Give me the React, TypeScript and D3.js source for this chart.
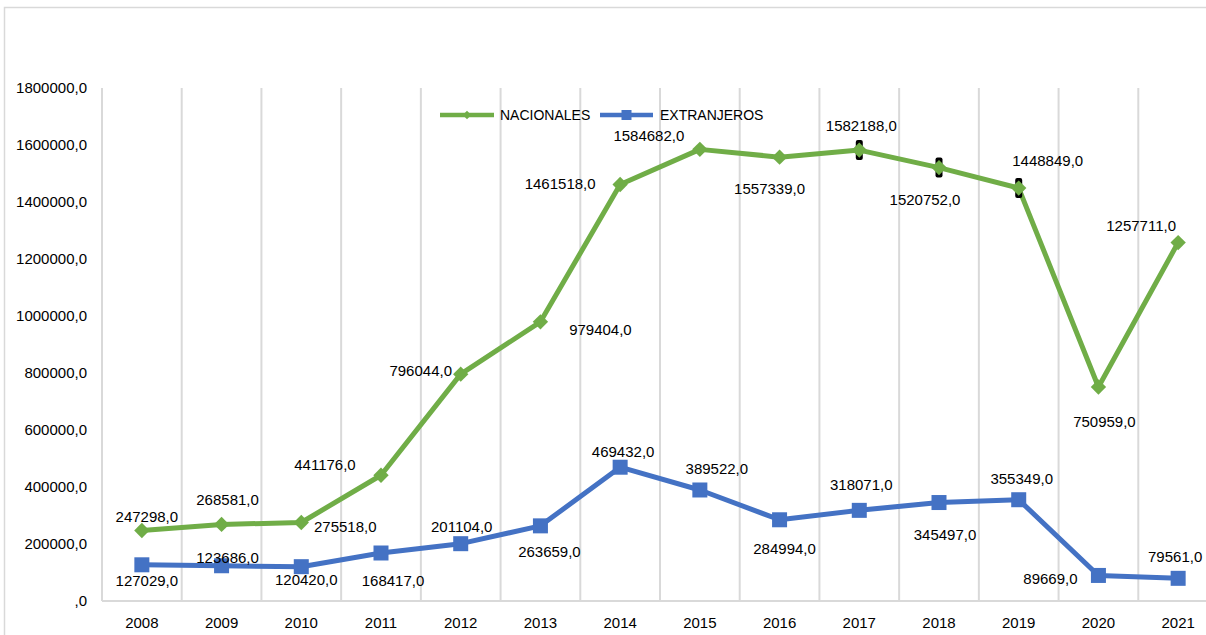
import React, { useRef, useEffect } from 'react';
import * as d3 from 'd3';

const years = ['2008', '2009', '2010', '2011', '2012', '2013', '2014', '2015', '2016', '2017', '2018', '2019', '2020', '2021'];
const nacionales = [247298, 268581, 275518, 441176, 796044, 979404, 1461518, 1584682, 1557339, 1582188, 1520752, 1448849, 750959, 1257711];
const extranjeros = [127029, 123686, 120420, 168417, 201104, 263659, 469432, 389522, 284994, 318071, 345497, 355349, 89669, 79561];
const yTicks = [0, 200000, 400000, 600000, 800000, 1000000, 1200000, 1400000, 1600000, 1800000];

// label offsets from the point (dx, dy), as placed in the original
const nacLabelOffset: [number, number][] = [
  [5, -14], [6, -25], [44, 4], [-56, -11], [-40, -3], [60, 8], [-60, -1],
  [-51, -14], [-10, 32], [2, -24], [-14, 32], [29, -27], [6, 35], [-37, -17],
];
const extLabelOffset: [number, number][] = [
  [5, 16], [6, -8], [5, 13], [12, 28], [1, -17], [9, 26], [3, -15],
  [17, -21], [5, 29], [2, -26], [6, 32], [3, -21], [-48, 3], [-3, -22],
];
// points that carry the small black marks
const markedYears = ['2017', '2018', '2019'];

const GREEN = '#70ad47';
const BLUE = '#4472c4';
const GRID = '#d9d9d9';
const FONT = '"Liberation Sans", Arial, sans-serif';

const App: React.FC = () => {
  const ref = useRef<SVGSVGElement>(null);

  useEffect(() => {
    const width = 1206;
    const height = 635;
    const svg = d3.select(ref.current);
    svg.selectAll('*').remove();
    svg.attr('width', width).attr('height', height);

    const margin = { top: 88, bottom: 601, left: 102, right: 1218 };

    const x = d3.scaleBand().domain(years).range([margin.left, margin.right]);
    const y = d3.scaleLinear().domain([0, 1800000]).range([margin.bottom, margin.top]);
    const cx = (d: string) => x(d)! + x.bandwidth() / 2;

    svg.append('rect').attr('width', width).attr('height', height).attr('fill', '#fff');

    // chart frame
    svg.append('rect')
      .attr('x', 4.5).attr('y', 7.5)
      .attr('width', width + 20).attr('height', height + 20)
      .attr('fill', 'none').attr('stroke', GRID).attr('stroke-width', 1.5);

    // vertical gridlines at category boundaries
    const bounds = years.map(d => x(d)!).concat([margin.right]);
    svg.append('g')
      .selectAll('line')
      .data(bounds)
      .join('line')
      .attr('x1', d => d).attr('x2', d => d)
      .attr('y1', margin.top).attr('y2', margin.bottom)
      .attr('stroke', GRID).attr('stroke-width', 2);

    // horizontal axis line
    svg.append('line')
      .attr('x1', margin.left).attr('x2', margin.right)
      .attr('y1', y(0)).attr('y2', y(0))
      .attr('stroke', GRID).attr('stroke-width', 2);

    // y axis labels
    svg.append('g')
      .selectAll('text')
      .data(yTicks)
      .join('text')
      .attr('x', 87)
      .attr('y', d => y(d))
      .attr('dy', '0.35em')
      .attr('text-anchor', 'end')
      .attr('font-family', FONT)
      .attr('font-size', 15)
      .attr('fill', '#000')
      .text(d => `${d === 0 ? '' : d},0`);

    // x axis labels
    svg.append('g')
      .selectAll('text')
      .data(years)
      .join('text')
      .attr('x', d => cx(d))
      .attr('y', 623)
      .attr('dy', '0.35em')
      .attr('text-anchor', 'middle')
      .attr('font-family', FONT)
      .attr('font-size', 15)
      .attr('fill', '#000')
      .text(d => d);

    const line = d3.line<number>()
      .x((_, i) => cx(years[i]))
      .y(d => y(d));

    // NACIONALES
    svg.append('path')
      .datum(nacionales)
      .attr('fill', 'none')
      .attr('stroke', GREEN)
      .attr('stroke-width', 5)
      .attr('stroke-linejoin', 'round')
      .attr('d', line);

    svg.append('g')
      .selectAll('rect')
      .data(nacionales.map((v, i) => ({ v, yr: years[i] })).filter(d => markedYears.includes(d.yr)))
      .join('rect')
      .attr('x', d => cx(d.yr) - 3.5)
      .attr('y', d => y(d.v) - 10)
      .attr('width', 7)
      .attr('height', 20)
      .attr('rx', 2)
      .attr('fill', '#000');

    const diamond = d3.symbol().type(d3.symbolDiamond2).size(150);
    svg.append('g')
      .selectAll('path')
      .data(nacionales)
      .join('path')
      .attr('transform', (d, i) => `translate(${cx(years[i])},${y(d)})`)
      .attr('d', diamond)
      .attr('fill', GREEN);

    // EXTRANJEROS
    svg.append('path')
      .datum(extranjeros)
      .attr('fill', 'none')
      .attr('stroke', BLUE)
      .attr('stroke-width', 5)
      .attr('stroke-linejoin', 'round')
      .attr('d', line);

    svg.append('g')
      .selectAll('rect')
      .data(extranjeros)
      .join('rect')
      .attr('x', (d, i) => cx(years[i]) - 7.5)
      .attr('y', d => y(d) - 7.5)
      .attr('width', 15)
      .attr('height', 15)
      .attr('fill', BLUE);

    // data labels
    const addLabels = (values: number[], offsets: [number, number][]) => {
      svg.append('g')
        .selectAll('text')
        .data(values)
        .join('text')
        .attr('x', (d, i) => cx(years[i]) + offsets[i][0])
        .attr('y', (d, i) => y(d) + offsets[i][1])
        .attr('dy', '0.35em')
        .attr('text-anchor', 'middle')
        .attr('font-family', FONT)
        .attr('font-size', 15)
        .attr('fill', '#000')
        .text(d => `${d},0`);
    };
    addLabels(nacionales, nacLabelOffset);
    addLabels(extranjeros, extLabelOffset);

    // legend
    const legend = svg.append('g').attr('transform', 'translate(0,115)');
    const items = [
      { name: 'NACIONALES', color: GREEN, x0: 440, x1: 494, tx: 500, marker: 'diamond' },
      { name: 'EXTRANJEROS', color: BLUE, x0: 600, x1: 653, tx: 660, marker: 'square' },
    ];
    items.forEach(it => {
      legend.append('line')
        .attr('x1', it.x0).attr('x2', it.x1)
        .attr('y1', 0).attr('y2', 0)
        .attr('stroke', it.color).attr('stroke-width', 4.5);
      const mx = (it.x0 + it.x1) / 2;
      if (it.marker === 'diamond') {
        legend.append('path')
          .attr('transform', `translate(${mx},0)`)
          .attr('d', d3.symbol().type(d3.symbolDiamond2).size(45)())
          .attr('fill', it.color);
      } else {
        legend.append('rect')
          .attr('x', mx - 5).attr('y', -5)
          .attr('width', 10).attr('height', 10)
          .attr('fill', it.color);
      }
      legend.append('text')
        .attr('x', it.tx)
        .attr('y', 0)
        .attr('dy', '0.35em')
        .attr('font-family', FONT)
        .attr('font-size', 14)
        .attr('fill', '#000')
        .text(it.name);
    });
  }, []);

  return <svg ref={ref} style={{ position: 'absolute', left: 0, top: 0, display: 'block' }}></svg>;
};

export default App;
